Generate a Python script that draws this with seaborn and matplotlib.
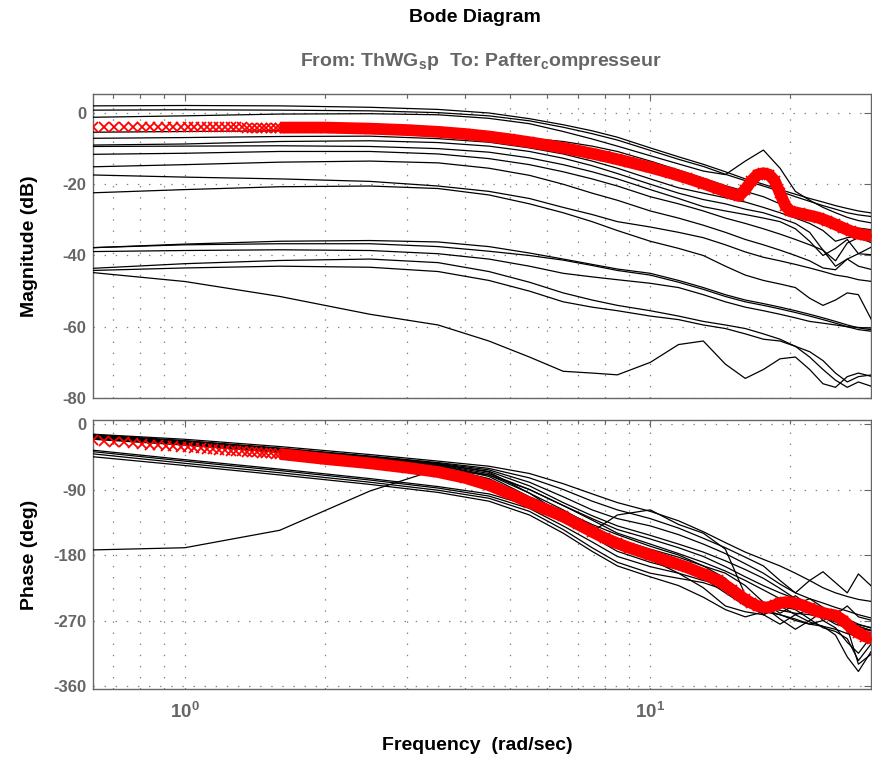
import numpy as np
import pandas as pd
import matplotlib
matplotlib.use("Agg")
import matplotlib.pyplot as plt
import seaborn as sns
from matplotlib.ticker import LogLocator, FixedLocator, FixedFormatter, NullFormatter

# ---------------- data ----------------
FREQ = [0.635, 1.0, 1.6, 2.5, 3.5, 4.5, 5.5, 6.5, 7.5, 8.5, 10, 11.5, 13, 14.5,
        16, 17.5, 19, 20.5, 22, 23.5, 25, 26.5, 28, 30]

mag_a = [2.0, 2.1, 2.0, 1.6, 1.0, 0.0, -1.6, -3.3, -5.0, -6.8, -9.8, -12.3, -14.4, -16.5, -18.5, -20.0, -21.5, -22.8, -24.0, -25.0, -26.0, -26.8, -27.5, -28.1]
mag_b = [0.8, 0.9, 0.8, 0.6, 0.1, -0.8, -2.2, -4.0, -5.8, -7.6, -10.5, -13.0, -15.0, -17.2, -19.0, -20.5, -22.0, -23.5, -24.8, -26.0, -27.0, -28.0, -28.6, -29.1]
mag_c = [-1.2, -0.8, -0.3, -0.2, -0.5, -1.5, -3.0, -5.2, -7.3, -9.3, -12.0, -14.3, -16.3, -17.3, -13.5, -10.4, -15.5, -22.0, -24.5, -26.5, -28.0, -29.3, -30.2, -30.9]
mag_d = [-5.4, -5.2, -5.0, -5.0, -5.5, -6.2, -7.1, -8.0, -9.3, -10.8, -13.5, -16.0, -18.3, -20.4, -22.0, -23.5, -25.5, -27.0, -28.5, -29.8, -30.8, -31.6, -32.3, -32.8]
mag_e = [-7.1, -6.9, -6.6, -6.5, -7.2, -8.2, -9.8, -11.5, -13.5, -15.5, -18.5, -21.0, -22.5, -23.8, -25.0, -26.5, -28.0, -29.5, -31.0, -33.0, -36.0, -35.0, -34.5, -35.1]
mag_f = [-9.0, -8.7, -8.0, -7.8, -8.3, -9.3, -10.8, -12.7, -14.8, -17.0, -20.0, -22.5, -24.3, -25.5, -27.0, -28.0, -29.5, -31.0, -33.5, -38.5, -41.5, -36.5, -35.0, -36.5]
mag_g = [-9.4, -9.3, -9.2, -9.4, -10.0, -11.0, -12.6, -14.5, -16.5, -18.5, -21.5, -24.0, -26.3, -27.5, -28.5, -29.5, -30.5, -32.5, -36.0, -40.0, -38.0, -35.5, -39.5, -37.5]
mag_g2 = [-11.6, -11.3, -10.8, -10.8, -11.5, -12.8, -14.5, -16.5, -18.5, -20.5, -23.5, -25.5, -27.5, -29.5, -31.0, -32.5, -34.0, -35.5, -37.0, -38.5, -43.0, -41.0, -39.5, -39.8]
mag_h = [-15.1, -14.5, -13.8, -13.5, -14.0, -15.5, -17.5, -20.0, -22.5, -24.5, -27.5, -29.5, -31.5, -33.5, -35.5, -37.0, -38.5, -40.0, -41.5, -43.5, -44.0, -41.0, -43.0, -44.0]
mag_i = [-17.4, -18.0, -18.5, -19.2, -20.5, -22.0, -24.0, -26.5, -28.5, -30.5, -32.0, -33.5, -35.0, -37.0, -39.0, -40.5, -41.5, -42.5, -43.5, -44.5, -45.5, -46.0, -46.8, -47.3]
mag_j = [-22.4, -21.5, -20.7, -20.5, -21.2, -23.0, -25.5, -28.0, -30.5, -33.0, -36.0, -38.0, -40.0, -43.0, -45.5, -47.0, -48.0, -49.0, -52.0, -54.0, -52.5, -50.5, -51.0, -58.5]
mag_k1 = [-37.8, -36.8, -36.0, -35.8, -36.2, -37.5, -39.3, -41.0, -42.5, -43.8, -45.0, -47.0, -49.0, -51.0, -52.5, -53.5, -54.5, -55.5, -56.5, -57.5, -58.5, -59.5, -60.3, -60.9]
mag_k2 = [-37.8, -37.0, -36.7, -36.7, -37.5, -38.8, -40.0, -41.3, -42.8, -44.2, -45.5, -47.5, -49.5, -51.5, -53.0, -54.0, -55.0, -56.0, -57.0, -58.0, -59.0, -60.0, -60.8, -61.3]
mag_l = [-38.9, -38.6, -38.4, -38.6, -39.5, -41.0, -43.0, -45.0, -46.0, -46.8, -47.8, -49.0, -51.0, -53.0, -54.5, -55.5, -56.5, -57.5, -58.5, -59.0, -59.5, -60.0, -60.2, -60.4]
mag_m = [-43.6, -42.3, -41.4, -41.0, -42.0, -44.5, -47.5, -50.5, -52.5, -54.0, -55.5, -57.0, -58.5, -59.5, -60.5, -62.0, -63.5, -65.5, -68.5, -72.0, -75.0, -77.0, -75.5, -76.8]
mag_m2 = [-44.2, -43.5, -43.0, -43.3, -44.5, -47.0, -50.0, -53.0, -54.5, -55.5, -57.0, -58.0, -59.5, -60.5, -62.0, -63.5, -64.0, -65.5, -67.0, -69.5, -73.0, -75.5, -74.0, -73.5]
mag_p = [-44.8, -47.3, -51.5, -56.5, -59.5, -64.0, -68.5, -72.5, -73.0, -73.5, -70.0, -65.0, -64.0, -70.5, -74.5, -72.0, -69.0, -68.5, -72.0, -76.0, -77.0, -74.0, -73.0, -74.0]

ph_1 = [-14, -21, -31, -42, -51, -58, -68, -82, -96, -108, -120, -133, -148, -163, -176, -186, -195, -205, -215, -225, -232, -237, -241, -244]
ph_2 = [-15, -23, -33, -44, -53, -61, -74, -90, -106, -118, -130, -143, -157, -170, -183, -195, -215, -232, -215, -203, -218, -232, -206, -224]
ph_3 = [-16, -24, -34, -45, -54, -63, -80, -100, -118, -130, -140, -152, -165, -178, -192, -205, -220, -232, -240, -246, -252, -257, -262, -267]
ph_4 = [-17, -25, -35, -46, -55, -66, -95, -125, -148, -125, -118, -138, -150, -172, -235, -262, -250, -240, -252, -262, -270, -276, -281, -284]
ph_5 = [-18, -26, -36, -47, -56, -68, -90, -112, -130, -145, -158, -170, -182, -196, -210, -222, -232, -240, -248, -255, -262, -268, -275, -281]
ph_6 = [-19, -27, -37, -48, -57, -72, -100, -120, -138, -152, -168, -180, -195, -212, -240, -262, -250, -236, -250, -270, -262, -250, -265, -270]
ph_7 = [-20, -28, -38, -49, -58, -76, -105, -130, -150, -165, -180, -195, -212, -232, -250, -258, -262, -270, -275, -278, -290, -320, -340, -310]
ph_8 = [-21, -29, -39, -50, -59, -80, -108, -132, -152, -168, -186, -205, -225, -250, -258, -262, -250, -255, -268, -280, -285, -295, -325, -300]
ph_9 = [-15, -23, -34, -45, -55, -65, -85, -108, -126, -140, -153, -165, -176, -188, -200, -212, -226, -240, -252, -262, -268, -272, -276, -280]
ph_10 = [-17, -25, -36, -47, -57, -70, -95, -118, -140, -158, -172, -183, -195, -205, -222, -245, -260, -248, -240, -252, -270, -282, -278, -285]
ph_11 = [-20, -28, -38, -49, -59, -75, -102, -128, -145, -158, -174, -190, -203, -218, -238, -250, -256, -260, -262, -266, -272, -280, -330, -315]
ph_l1 = [-36, -49, -62, -75, -86, -96, -112, -135, -155, -175, -190, -200, -210, -225, -245, -262, -275, -262, -255, -265, -275, -280, -283, -288]
ph_l2 = [-38, -51, -64, -77, -88, -99, -116, -140, -162, -182, -196, -205, -215, -222, -235, -250, -268, -282, -270, -258, -262, -275, -285, -290]
ph_l3 = [-41, -54, -67, -80, -91, -102, -120, -145, -170, -190, -205, -212, -218, -228, -242, -255, -262, -268, -275, -270, -280, -300, -315, -290]
ph_l4 = [-45, -57, -70, -83, -94, -106, -125, -150, -175, -195, -210, -222, -238, -255, -265, -258, -250, -262, -272, -278, -282, -288, -292, -296]
ph_s = [-173, -170, -146, -92, -62, -70, -90, -112, -132, -150, -165, -178, -190, -202, -215, -228, -240, -250, -256, -262, -267, -272, -278, -284]

# nominal model (red, 'x' markers)
red_w_left = [0.635, 0.6695, 0.704, 0.7385, 0.773, 0.8075, 0.842, 0.8765, 0.911, 0.9455,
              0.98, 1.0145, 1.049, 1.0835, 1.118, 1.1525, 1.187, 1.2215, 1.256, 1.2905,
              1.325, 1.3595, 1.394, 1.4285, 1.463, 1.4975, 1.532, 1.5665]
red_mag_left = [-4.0, -4.0, -4.0, -4.0, -4.0, -4.0, -4.0, -4.0, -4.0, -4.0,
                -4.0, -4.0, -4.0, -4.0, -4.0, -4.0, -4.0, -4.0, -4.0, -4.0,
                -4.0, -4.1, -4.1, -4.1, -4.1, -4.1, -4.1, -4.1]
red_ph_left = [-22.0, -23.2, -24.3, -25.4, -26.4, -27.3, -28.2, -29.1, -29.9, -30.7,
               -31.4, -32.1, -32.8, -33.5, -34.1, -34.7, -35.3, -35.9, -36.5, -37.0,
               -37.5, -38.0, -38.5, -39.0, -39.5, -40.0, -40.4, -40.8]
red_w_band = [1.601, 2.0, 2.5, 3.0, 3.5, 4.0, 4.5, 5.0, 5.5, 6.0, 6.5, 7.0, 7.5, 8.0, 8.5,
              9.0, 10, 11, 12, 13, 14, 15, 15.5, 16, 16.5, 17, 17.5, 18, 18.5, 19, 19.5,
              20, 21, 22, 23, 24, 25, 26, 27, 28, 29, 30]
red_mag_band = [-4.1, -4.1, -4.4, -4.8, -5.3, -5.9, -6.6, -7.4, -8.2, -9.0, -9.8, -10.6,
                -11.4, -12.2, -13.0, -13.8, -15.3, -16.8, -18.3, -19.8, -21.3, -22.7,
                -23.3, -21.5, -19.0, -17.3, -16.9, -17.3, -19.0, -22.5, -26.0, -27.6,
                -28.2, -28.8, -29.4, -30.3, -31.3, -32.3, -33.2, -33.9, -34.3, -34.5]
red_ph_band = [-41.2, -48, -54, -60, -66, -74, -84, -96, -108, -118, -127, -138, -148,
               -157, -164, -170, -180, -189, -197, -206, -215, -228, -235, -241, -246,
               -250, -252, -252, -249, -246, -245, -245, -248, -253, -258, -261, -263,
               -270, -280, -287, -292, -295]

mag_ticks = [0, -20, -40, -60, -80]
ph_ticks = [0, -90, -180, -270, -360]
x_ticks = [1, 10]
x_ticklabels = [r"$\mathbf{10^{0}}$", r"$\mathbf{10^{1}}$"]

# ---------------- style ----------------
sns.set_theme(style="white")
plt.rcParams["font.family"] = ["Liberation Sans", "DejaVu Sans"]
plt.rcParams["font.weight"] = "bold"
plt.rcParams["mathtext.fontset"] = "custom"
plt.rcParams["mathtext.rm"] = "Liberation Sans:bold"
plt.rcParams["mathtext.bf"] = "Liberation Sans:bold"
plt.rcParams["mathtext.it"] = "Liberation Sans:bold"
plt.rcParams["mathtext.default"] = "bf"
plt.rcParams["axes.unicode_minus"] = False
plt.rcParams["lines.scale_dashes"] = False

GRAY = "#666666"
GRID = "#808080"

mag_curves = [mag_a, mag_b, mag_c, mag_d, mag_e, mag_f, mag_g, mag_g2, mag_h, mag_i,
              mag_j, mag_k1, mag_k2, mag_l, mag_m, mag_m2, mag_p]
ph_curves = [ph_1, ph_2, ph_3, ph_4, ph_5, ph_6, ph_7, ph_8, ph_9, ph_10, ph_11,
             ph_l1, ph_l2, ph_l3, ph_l4, ph_s]

df_mag = pd.DataFrame({
    "w": np.tile(FREQ, len(mag_curves)),
    "val": np.concatenate(mag_curves),
    "model": np.repeat(np.arange(len(mag_curves)), len(FREQ)),
})
df_ph = pd.DataFrame({
    "w": np.tile(FREQ, len(ph_curves)),
    "val": np.concatenate(ph_curves),
    "model": np.repeat(np.arange(len(ph_curves)), len(FREQ)),
})

fig = plt.figure(figsize=(8.72, 7.59), dpi=100)
L, R = 93 / 872, 871 / 872
ax1 = fig.add_axes([L, 1 - 398 / 759, R - L, (398 - 94) / 759])
ax2 = fig.add_axes([L, 1 - 689 / 759, R - L, (689 - 420) / 759])

for ax, df, rw_l, rv_l, rv_b in [(ax1, df_mag, red_w_left, red_mag_left, red_mag_band),
                                 (ax2, df_ph, red_w_left, red_ph_left, red_ph_band)]:
    ax.set_xscale("log")
    sns.lineplot(data=df, x="w", y="val", units="model", estimator=None,
                 color="black", lw=0.9, ax=ax, zorder=3)
    sns.lineplot(x=red_w_band, y=rv_b, color="red", lw=8.5, ax=ax, zorder=4,
                 solid_capstyle="butt", solid_joinstyle="round")
    ax.plot(rw_l + red_w_band, rv_l + rv_b, ls="none", marker="x", ms=7.5, mew=1.3,
            color="red", zorder=5)
    ax.set_xlim(0.635, 29.8)
    ax.set_xlabel("")
    ax.set_ylabel("")
    ax.xaxis.set_major_locator(FixedLocator(x_ticks))
    ax.xaxis.set_minor_locator(LogLocator(base=10, subs=np.arange(2, 10)))
    ax.xaxis.set_minor_formatter(NullFormatter())
    ax.grid(which="major", axis="both", color=GRID, ls=(0, (1, 7)), lw=0.9)
    ax.grid(which="minor", axis="x", color=GRID, ls=(0, (1, 7)), lw=0.9)
    ax.set_axisbelow(True)
    for s in ax.spines.values():
        s.set_color(GRAY)
        s.set_linewidth(1.0)
    ax.tick_params(which="both", direction="in", top=True, right=True,
                   color=GRAY, labelcolor=GRAY, width=0.8)
    ax.tick_params(which="major", length=5)
    ax.tick_params(which="minor", length=3)
    ax.tick_params(axis="y", labelsize=12, pad=5)
    ax.tick_params(axis="x", labelsize=13.5, pad=9)
    ax.set_facecolor("white")

ax1.set_ylim(-80, 5.33)
ax1.yaxis.set_major_locator(FixedLocator(mag_ticks))
ax1.tick_params(labelbottom=False)
ax2.set_ylim(-364.1, 5.5)
ax2.yaxis.set_major_locator(FixedLocator(ph_ticks))
ax2.xaxis.set_major_formatter(FixedFormatter(x_ticklabels))
for lab in ax1.get_yticklabels() + ax2.get_yticklabels():
    lab.set_fontweight("bold")

fig.text(475 / 872, 1 - 17 / 759, "Bode Diagram", ha="center", va="center",
         fontsize=14, fontweight="bold", color="black")
fig.text(481 / 872, 1 - 62 / 759, "From: ThWG$_{s}$p  To: Pafter$_{c}$ompresseur",
         ha="center", va="center", fontsize=14, fontweight="bold", color=GRAY)
fig.text(30 / 872, 1 - 246 / 759, "Magnitude (dB)", rotation=90, ha="center",
         va="center", fontsize=14, fontweight="bold", color="black")
fig.text(30 / 872, 1 - 555 / 759, "Phase (deg)", rotation=90, ha="center",
         va="center", fontsize=14, fontweight="bold", color="black")
fig.text(477 / 872, 1 - 745 / 759, "Frequency  (rad/sec)", ha="center", va="center",
         fontsize=14, fontweight="bold", color="black")

fig.savefig("out.png", dpi=100, facecolor="white")
